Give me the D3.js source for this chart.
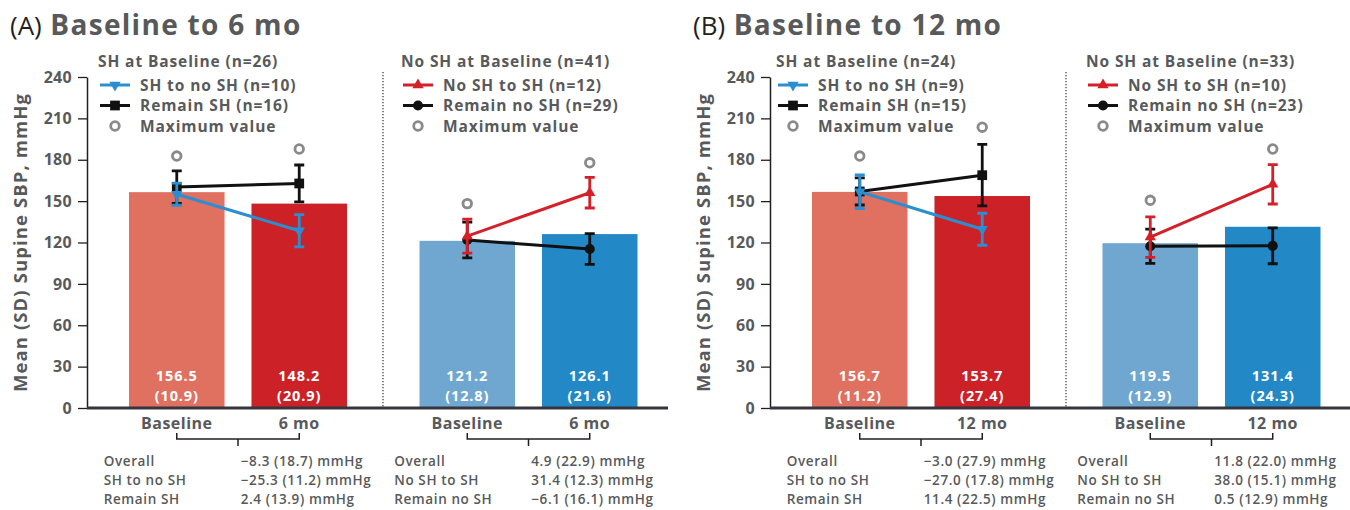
<!DOCTYPE html>
<html>
<head>
<meta charset="utf-8">
<script src="https://cdn.jsdelivr.net/npm/d3@7"></script>
<style>
  body { margin: 0; background: #fff; }
  text { font-family: "Open Sans", sans-serif; }
</style>
</head>
<body>
<svg id="chart" width="1350" height="510"></svg>
<script>
// ---- data ----
const panelLetters = ['(A)', '(B)'];
const panelTitles = ['Baseline to 6 mo', 'Baseline to 12 mo'];
const timeLabels = [['Baseline', '6 mo'], ['Baseline', '12 mo']];
const groupHeaders = [
  ['SH at Baseline (n=26)', 'No SH at Baseline (n=41)'],
  ['SH at Baseline (n=24)', 'No SH at Baseline (n=33)']
];
const yTicks = [0, 30, 60, 90, 120, 150, 180, 210, 240];

// [panel][group][time]
const barMeans = [[[156.5, 148.2], [121.2, 126.1]], [[156.7, 153.7], [119.5, 131.4]]];
const barSDs = [[[10.9, 20.9], [12.8, 21.6]], [[11.2, 27.4], [12.9, 24.3]]];
const maxValues = [[[182.7, 187.8], [148.2, 177.8]], [[182.7, 203.6], [150.6, 187.8]]];

// [panel][group][series]
const seriesNames = [
  [['SH to no SH (n=10)', 'Remain SH (n=16)'], ['No SH to SH (n=12)', 'Remain no SH (n=29)']],
  [['SH to no SH (n=9)', 'Remain SH (n=15)'], ['No SH to SH (n=10)', 'Remain no SH (n=23)']]
];
// [panel][group][series][time]
const seriesMeans = [
  [[[155.0, 128.5], [160.2, 162.8]], [[124.6, 156.1], [121.8, 115.3]]],
  [[[156.8, 129.6], [157.0, 168.8]], [[123.9, 162.2], [117.3, 117.6]]]
];
const seriesSDs = [
  [[[8.0, 11.7], [11.8, 13.4]], [[12.3, 11.1], [13.0, 11.1]]],
  [[[12.3, 11.6], [9.8, 22.3]], [[14.7, 14.3], [12.4, 13.0]]]
];

const tableLabels = [['Overall', 'SH to no SH', 'Remain SH'], ['Overall', 'No SH to SH', 'Remain no SH']];
const tableValues = [
  [['\u22128.3 (18.7) mmHg', '\u221225.3 (11.2) mmHg', '2.4 (13.9) mmHg'],
   ['4.9 (22.9) mmHg', '31.4 (12.3) mmHg', '\u22126.1 (16.1) mmHg']],
  [['\u22123.0 (27.9) mmHg', '\u221227.0 (17.8) mmHg', '11.4 (22.5) mmHg'],
   ['11.8 (22.0) mmHg', '38.0 (15.1) mmHg', '0.5 (12.9) mmHg']]
];

// ---- styles / layout ----
const grey = '#58595b';
const barColors = [['#e07060', '#cd2128'], ['#70a7d0', '#2288c6']];
const seriesColors = [['#2a8ed0', '#111111'], ['#d42129', '#111111']];
const seriesSymbols = [
  [d3.symbolTriangle, d3.symbolSquare],
  [d3.symbolTriangle, d3.symbolCircle]
];
const seriesRotate = [[180, 0], [0, 0]];
const symbolSizes = [[55, 95], [55, 80]];
const panelX = [0, 683];
const legendX = [[100, 403], [95, 405]];

const svg = d3.select('#chart');

function label(sel, size, spacing, weight) {
  return sel.attr('font-size', size).attr('letter-spacing', spacing)
    .attr('font-weight', weight).attr('fill', grey);
}

function drawPanel(p) {
  const g = svg.append('g').attr('transform', 'translate(' + panelX[p] + ',0)');
  const y = d3.scaleLinear().domain([0, 240]).range([408, 77]);
  const xg = d3.scaleBand().domain([0, 1]).range([87, 668]);
  const xt = d3.scaleBand().domain([0, 1]).range([42, 260]).paddingInner(0.22);
  const cx = function(gi, ti) { return xg(gi) + xt(ti) + xt.bandwidth() / 2; };

  // title
  const title = g.append('text').attr('x', 10).attr('y', 35);
  title.append('tspan').text(panelLetters[p]).attr('font-size', 26).attr('fill', '#231f20');
  title.append('tspan').text(' ' + panelTitles[p]).attr('font-size', 28).attr('letter-spacing', 1.3)
    .attr('font-weight', 700).attr('fill', grey);

  // y axis
  const yAxis = g.append('g').attr('transform', 'translate(87,0)')
    .call(d3.axisLeft(y).tickValues(yTicks).tickSize(9).tickSizeOuter(0).tickPadding(6));
  yAxis.select('.domain').attr('stroke', '#231f20').attr('stroke-width', 1.5);
  yAxis.selectAll('.tick line').attr('stroke', '#231f20').attr('stroke-width', 1.3);
  yAxis.selectAll('.tick text').attr('font-size', 16).attr('font-weight', 700).attr('letter-spacing', 0.3)
    .attr('fill', grey).style('font-family', '"Open Sans", sans-serif');

  label(g.append('text'), 18.5, 1.1, 700)
    .attr('transform', 'translate(27,' + ((y(0) + y(240)) / 2) + ') rotate(-90)')
    .attr('text-anchor', 'middle').text('Mean (SD) Supine SBP, mmHg');

  // divider
  g.append('line').attr('x1', xg(1) + 5.5).attr('x2', xg(1) + 5.5)
    .attr('y1', 72).attr('y2', y(0))
    .attr('stroke', '#333').attr('stroke-width', 1.2).attr('stroke-dasharray', '1.2,1.8');

  [0, 1].forEach(function(gi) {
    // bars
    g.selectAll('rect.bar' + gi).data(barMeans[p][gi]).enter().append('rect')
      .attr('class', 'bar' + gi)
      .attr('x', function(d, ti) { return xg(gi) + xt(ti); })
      .attr('width', xt.bandwidth())
      .attr('y', function(d) { return y(d); })
      .attr('height', function(d) { return y(0) - y(d); })
      .attr('fill', function(d, ti) { return barColors[gi][ti]; });

    barMeans[p][gi].forEach(function(m, ti) {
      g.append('text').attr('x', cx(gi, ti)).attr('y', 381).attr('text-anchor', 'middle')
        .attr('font-size', 14.5).attr('letter-spacing', 0.9).attr('font-weight', 700).attr('fill', '#fff')
        .text(m.toFixed(1));
      g.append('text').attr('x', cx(gi, ti)).attr('y', 401).attr('text-anchor', 'middle')
        .attr('font-size', 14.5).attr('letter-spacing', 0.9).attr('font-weight', 700).attr('fill', '#fff')
        .text('(' + barSDs[p][gi][ti].toFixed(1) + ')');
      label(g.append('text'), 16, 0.5, 700).attr('x', cx(gi, ti)).attr('y', 429)
        .attr('text-anchor', 'middle').text(timeLabels[p][ti]);
    });

    // bracket
    const bx0 = cx(gi, 0), bx1 = cx(gi, 1), bm = (bx0 + bx1) / 2;
    g.append('path')
      .attr('d', 'M' + bx0 + ',433V439H' + bx1 + 'V433M' + bm + ',439V446')
      .attr('fill', 'none').attr('stroke', '#231f20').attr('stroke-width', 1.5);

    // maximum values
    g.selectAll('circle.max' + gi).data(maxValues[p][gi]).enter().append('circle')
      .attr('class', 'max' + gi)
      .attr('cx', function(d, ti) { return cx(gi, ti); })
      .attr('cy', function(d) { return y(d); })
      .attr('r', 4.3).attr('fill', '#fff').attr('stroke', '#8a8a8a').attr('stroke-width', 2.8);

    // series: black first, colored on top
    [1, 0].forEach(function(si) {
      const col = seriesColors[gi][si];
      const means = seriesMeans[p][gi][si];
      const sds = seriesSDs[p][gi][si];
      const line = d3.line().x(function(d, ti) { return cx(gi, ti); }).y(function(d) { return y(d); });
      g.append('path').datum(means).attr('d', line)
        .attr('fill', 'none').attr('stroke', col).attr('stroke-width', 3);
      means.forEach(function(m, ti) {
        const x = cx(gi, ti);
        const yt = y(m + sds[ti]), yb = y(m - sds[ti]);
        g.append('path')
          .attr('d', 'M' + x + ',' + yt + 'V' + yb + 'M' + (x - 5) + ',' + yt + 'H' + (x + 5) +
            'M' + (x - 5) + ',' + yb + 'H' + (x + 5))
          .attr('fill', 'none').attr('stroke', col).attr('stroke-width', 2.8);
        g.append('path')
          .attr('d', d3.symbol().type(seriesSymbols[gi][si]).size(symbolSizes[gi][si])())
          .attr('transform', 'translate(' + x + ',' + y(m) + ') rotate(' + seriesRotate[gi][si] + ')')
          .attr('fill', col);
      });
    });

    // legend
    const lx = legendX[p][gi];
    label(g.append('text'), 15.5, 0.9, 700).attr('x', lx - 2).attr('y', 67).text(groupHeaders[p][gi]);
    [0, 1].forEach(function(si) {
      const ly = 85 + si * 20.5;
      const col = seriesColors[gi][si];
      g.append('line').attr('x1', lx).attr('x2', lx + 30).attr('y1', ly).attr('y2', ly)
        .attr('stroke', col).attr('stroke-width', 3);
      g.append('path')
        .attr('d', d3.symbol().type(seriesSymbols[gi][si]).size(symbolSizes[gi][si])())
        .attr('transform', 'translate(' + (lx + 15) + ',' + ly + ') rotate(' + seriesRotate[gi][si] + ')')
        .attr('fill', col);
      label(g.append('text'), 15.5, 0.9, 700).attr('x', lx + 40).attr('y', ly + 5.5)
        .text(seriesNames[p][gi][si]);
    });
    g.append('circle').attr('cx', lx + 15).attr('cy', 126).attr('r', 4.3)
      .attr('fill', '#fff').attr('stroke', '#8a8a8a').attr('stroke-width', 2.8);
    label(g.append('text'), 15.5, 0.9, 700).attr('x', lx + 40).attr('y', 131.5).text('Maximum value');

    // change table
    tableLabels[gi].forEach(function(lbl, ri) {
      const ty = 466 + ri * 19;
      label(g.append('text'), 13.5, 0.6, 600).attr('x', cx(gi, 0) - 73).attr('y', ty).text(lbl);
      label(g.append('text'), 13.5, 0.6, 600).attr('x', cx(gi, 0) + 64).attr('y', ty)
        .text(tableValues[p][gi][ri]);
    });
  });

  // x axis line
  g.append('line').attr('x1', 87).attr('x2', 668).attr('y1', y(0)).attr('y2', y(0))
    .attr('stroke', '#34353d').attr('stroke-width', 3);
}

drawPanel(0);
drawPanel(1);
</script>
</body>
</html>
